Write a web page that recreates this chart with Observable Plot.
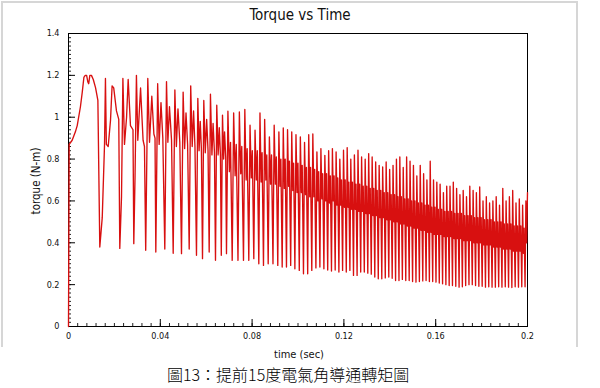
<!DOCTYPE html>
<html>
<head>
<meta charset="utf-8">
<script src="https://cdn.jsdelivr.net/npm/d3@7"></script>
<script src="https://cdn.jsdelivr.net/npm/@observablehq/plot@0.6"></script>
<style>
  html, body { margin: 0; padding: 0; background: #fff; }
  #wrap { position: relative; width: 600px; height: 388px; overflow: hidden; background: #fff;
          font-family: "Liberation Sans Narrow", "DejaVu Sans Condensed", "Liberation Sans", sans-serif; color: #111; }
  #border { position: absolute; left: 1px; top: 1px; width: 577px; height: 346px;
            border-left: 2px solid #d6d6d6; border-top: 2px solid #d6d6d6; border-right: 2px solid #d6d6d6; box-sizing: border-box; }
  #chart { position: absolute; left: 0; top: 0; }
  #title { position: absolute; left: 0; top: 6px; width: 600px; text-align: center; font-size: 15px; }
  #ylab { position: absolute; left: 36px; top: 181px; font-size: 11.5px; white-space: nowrap;
          transform: translate(-50%, -50%) rotate(-90deg); }
  #xlab { position: absolute; left: 0; top: 348px; width: 598px; text-align: center; font-size: 11px; }
  #caption { position: absolute; left: 167px; top: 362px; font-size: 16px; white-space: nowrap; font-weight: 300;
             font-family: "Noto Sans CJK TC", "Noto Sans CJK SC", sans-serif; color: #000; }
</style>
</head>
<body>
<div id="wrap">
  <div id="border"></div>
  <div id="chart"></div>
  <div id="title">Torque vs Time</div>
  <div id="ylab">torque (N-m)</div>
  <div id="xlab">time (sec)</div>
  <div id="caption">圖13：提前15度電氣角導通轉矩圖</div>
</div>
<script>
// Tick labels
const xTicks = [0, 0.04, 0.08, 0.12, 0.16, 0.2];
const yTicks = [0, 0.2, 0.4, 0.6, 0.8, 1, 1.2, 1.4];

// Time samples (milliseconds)
const timeMs = [
  0, 0.3, 1.6, 3.0, 3.8, 5.2, 6.0, 6.7, 7.3, 7.9, 8.4, 8.8, 9.3, 10.0, 10.8, 11.8, 12.8,
  13.64, 14.7, 15.7, 16.1, 16.5, 17.3, 18.3, 19.0, 19.7, 20.9, 21.9,
  22.35, 23.1, 23.7, 24.4, 25.3, 26.0, 27.0, 28.1,
  28.45, 29.0, 29.6, 30.2, 31.4, 32.5, 33.1,
  33.64,
  34.55, 35.3, 36.3, 37.2, 37.7, 38.04,
  38.85, 39.5, 40.3, 41.1, 41.96,
  42.7, 43.3, 44.0, 44.9, 45.62,
  46.35, 47.0, 47.7, 48.5, 49.24,
  49.95, 50.6, 51.2, 51.9, 52.59,
  53.25, 53.9, 54.5, 55.1, 55.77,
  56.35, 56.9, 57.4, 57.9, 58.39,
  58.95, 59.6, 60.2, 60.8, 61.30,
  61.85, 62.5, 63.0, 63.6, 64.05,
  64.6, 65.2, 65.7, 66.2, 66.58,
  67.1, 67.6, 68.0, 68.5, 68.84,
  69.46, 70.10, 70.60, 71.33,
  71.96, 72.60, 73.10, 73.85,
  74.45, 75.05, 75.50, 76.25,
  76.83, 77.40, 77.85, 78.56,
  79.10, 79.65, 80.10, 80.74,
  81.28, 81.83, 82.27, 82.92,
  83.43, 83.94, 84.35, 84.96,
  85.47, 85.98, 86.40, 87.01,
  87.53, 88.05, 88.47, 89.10,
  89.62, 90.15, 90.56, 91.19,
  91.67, 92.15, 92.53, 93.11,
  93.58, 94.05, 94.42, 94.98,
  95.44, 95.90, 96.26, 96.81,
  97.27, 97.72, 98.09, 98.64,
  99.12, 99.60, 99.98, 100.56,
  101.02, 101.48, 101.84, 102.39,
  102.85, 103.30, 103.67, 104.22,
  104.67, 105.12, 105.47, 106.01,
  106.46, 106.90, 107.26, 107.80,
  108.24, 108.67, 109.02, 109.54,
  109.98, 110.41, 110.76, 111.28,
  111.70, 112.11, 112.44, 112.94,
  113.35, 113.77, 114.10, 114.59,
  114.99, 115.40, 115.72, 116.20,
  116.60, 117.01, 117.33, 117.82,
  118.22, 118.62, 118.95, 119.43,
  119.83, 120.24, 120.56, 121.04,
  121.43, 121.83, 122.14, 122.61,
  123.00, 123.40, 123.71, 124.18,
  124.57, 124.97, 125.28, 125.75,
  126.14, 126.54, 126.85, 127.32,
  127.71, 128.10, 128.42, 128.89,
  129.27, 129.65, 129.95, 130.41,
  130.79, 131.17, 131.47, 131.93,
  132.31, 132.70, 133.00, 133.46,
  133.84, 134.22, 134.52, 134.98,
  135.36, 135.75, 136.05, 136.51,
  136.89, 137.27, 137.57, 138.03,
  138.41, 138.80, 139.10, 139.56,
  139.93, 140.30, 140.60, 141.04,
  141.41, 141.78, 142.07, 142.52,
  142.89, 143.26, 143.55, 144.00,
  144.37, 144.74, 145.03, 145.48,
  145.85, 146.22, 146.51, 146.96,
  147.33, 147.70, 148.00, 148.45,
  148.82, 149.19, 149.48, 149.93,
  150.30, 150.67, 150.96, 151.41,
  151.78, 152.15, 152.44, 152.89,
  153.26, 153.63, 153.92, 154.37,
  154.73, 155.09, 155.38, 155.81,
  156.17, 156.53, 156.82, 157.25,
  157.61, 157.97, 158.26, 158.69,
  159.05, 159.41, 159.70, 160.13,
  160.49, 160.85, 161.14, 161.56,
  161.92, 162.28, 162.57, 163.00,
  163.36, 163.72, 164.01, 164.44,
  164.80, 165.16, 165.45, 165.87,
  166.23, 166.59, 166.88, 167.31,
  167.67, 168.03, 168.32, 168.75,
  169.11, 169.47, 169.76, 170.19,
  170.55, 170.91, 171.20, 171.62,
  171.98, 172.34, 172.63, 173.06,
  173.42, 173.78, 174.07, 174.50,
  174.86, 175.22, 175.51, 175.94,
  176.30, 176.66, 176.95, 177.37,
  177.73, 178.09, 178.38, 178.81,
  179.17, 179.53, 179.82, 180.25,
  180.61, 180.97, 181.26, 181.69,
  182.05, 182.41, 182.70, 183.12,
  183.48, 183.84, 184.13, 184.56,
  184.92, 185.28, 185.57, 186.00,
  186.36, 186.72, 187.01, 187.44,
  187.80, 188.16, 188.45, 188.87,
  189.23, 189.59, 189.88, 190.31,
  190.67, 191.03, 191.32, 191.75,
  192.11, 192.47, 192.76, 193.19,
  193.55, 193.91, 194.20, 194.63,
  194.99, 195.35, 195.64, 196.07,
  196.43, 196.79, 197.08, 197.51,
  197.87, 198.23, 198.52, 198.94,
  199.30, 199.60, 200.00
];

// Torque values (N-m) matching timeMs
const torqueNm = [
  0, 0.87, 0.89, 0.93, 0.96, 1.05, 1.12, 1.19, 1.2, 1.2, 1.17, 1.16, 1.2, 1.2, 1.18, 1.14, 1.08,
  0.38, 0.52, 0.87, 1.185, 0.87, 0.86, 0.985, 1.15, 1.14, 1.03, 0.99,
  0.373, 0.62, 1.185, 0.87, 1.0, 1.18, 0.96, 0.94,
  0.396, 0.72, 1.2, 0.89, 1.14, 0.89, 0.86,
  0.364,
  1.185, 0.88, 1.1, 0.92, 0.9, 0.356,
  1.16, 0.87, 1.07, 0.9, 0.37,
  1.17, 0.88, 1.05, 0.89, 0.35,
  1.13, 0.86, 1.04, 0.88, 0.348,
  1.12, 0.85, 1.02, 0.87, 0.37,
  1.15, 0.86, 1.03, 0.86, 0.34,
  1.09, 0.84, 0.98, 0.85, 0.324,
  1.08, 0.83, 0.99, 0.84, 0.356,
  1.11, 0.82, 0.97, 0.83, 0.316,
  1.057, 0.82, 0.95, 0.82, 0.34,
  1.01, 0.8, 0.93, 0.81, 0.348,
  1.029, 0.74, 0.88, 0.316,
  1.02, 0.72, 0.87, 0.316,
  1.025, 0.73, 0.86, 0.316,
  1.037, 0.70, 0.85, 0.316,
  0.962, 0.71, 0.84, 0.324,
  0.938, 0.70, 0.84, 0.30,
  1.02, 0.69, 0.83, 0.292,
  0.99, 0.70, 0.82, 0.30,
  0.906, 0.68, 0.82, 0.30,
  0.962, 0.68, 0.81, 0.292,
  0.93, 0.67, 0.80, 0.284,
  0.949, 0.66, 0.80, 0.284,
  0.94, 0.67, 0.79, 0.292,
  0.93, 0.65, 0.78, 0.276,
  0.916, 0.64, 0.78, 0.268,
  0.906, 0.64, 0.77, 0.252,
  0.88, 0.63, 0.76, 0.252,
  0.916, 0.62, 0.76, 0.268,
  0.92, 0.62, 0.75, 0.28,
  0.834, 0.60, 0.74, 0.284,
  0.85, 0.61, 0.73, 0.276,
  0.818, 0.60, 0.73, 0.27,
  0.84, 0.59, 0.72, 0.265,
  0.85, 0.60, 0.72, 0.27,
  0.834, 0.58, 0.71, 0.26,
  0.80, 0.58, 0.70, 0.268,
  0.842, 0.57, 0.70, 0.26,
  0.855, 0.57, 0.69, 0.268,
  0.80, 0.56, 0.69, 0.244,
  0.82, 0.56, 0.68, 0.244,
  0.842, 0.55, 0.68, 0.26,
  0.81, 0.55, 0.67, 0.26,
  0.80, 0.54, 0.67, 0.255,
  0.826, 0.54, 0.66, 0.25,
  0.81, 0.53, 0.66, 0.236,
  0.786, 0.53, 0.65, 0.228,
  0.77, 0.52, 0.65, 0.228,
  0.762, 0.52, 0.64, 0.232,
  0.786, 0.51, 0.64, 0.236,
  0.75, 0.51, 0.63, 0.23,
  0.77, 0.50, 0.63, 0.22,
  0.80, 0.50, 0.62, 0.22,
  0.81, 0.49, 0.62, 0.225,
  0.76, 0.49, 0.61, 0.22,
  0.81, 0.48, 0.61, 0.22,
  0.79, 0.48, 0.60, 0.215,
  0.77, 0.47, 0.60, 0.212,
  0.72, 0.47, 0.59, 0.215,
  0.77, 0.46, 0.59, 0.218,
  0.73, 0.46, 0.58, 0.22,
  0.70, 0.45, 0.58, 0.215,
  0.79, 0.45, 0.57, 0.215,
  0.70, 0.44, 0.57, 0.212,
  0.69, 0.44, 0.56, 0.208,
  0.68, 0.44, 0.56, 0.204,
  0.64, 0.43, 0.55, 0.20,
  0.67, 0.43, 0.55, 0.196,
  0.67, 0.43, 0.55, 0.196,
  0.69, 0.42, 0.54, 0.192,
  0.66, 0.42, 0.54, 0.188,
  0.63, 0.42, 0.54, 0.19,
  0.65, 0.41, 0.53, 0.196,
  0.62, 0.41, 0.53, 0.20,
  0.67, 0.41, 0.53, 0.20,
  0.65, 0.40, 0.52, 0.196,
  0.64, 0.40, 0.52, 0.192,
  0.667, 0.40, 0.52, 0.192,
  0.60, 0.39, 0.51, 0.188,
  0.62, 0.39, 0.51, 0.19,
  0.59, 0.39, 0.51, 0.188,
  0.60, 0.38, 0.50, 0.188,
  0.62, 0.38, 0.50, 0.19,
  0.58, 0.38, 0.50, 0.188,
  0.66, 0.37, 0.49, 0.19,
  0.60, 0.37, 0.49, 0.188,
  0.62, 0.37, 0.49, 0.186,
  0.65, 0.36, 0.48, 0.19,
  0.59, 0.36, 0.48, 0.188,
  0.61, 0.36, 0.48, 0.19,
  0.58, 0.35, 0.47, 0.19,
  0.60, 0.40, 0.64
];

if (timeMs.length !== torqueNm.length) console.error("length mismatch", timeMs.length, torqueNm.length);
const data = timeMs.map((ms, i) => ({time: ms / 1000, torque: torqueNm[i]}));

const xMinor = d3.range(0, 0.2 + 1e-9, 0.004);
const yMinor = d3.range(0, 1.4 + 1e-9, 0.02);

const chart = Plot.plot({
  width: 600,
  height: 362,
  marginLeft: 68,
  marginRight: 73,
  marginTop: 33,
  marginBottom: 36,
  style: {
    fontFamily: '"Liberation Sans Narrow", "DejaVu Sans Condensed", "Liberation Sans", sans-serif',
    fontSize: "9px",
    color: "#111",
    background: "transparent",
    overflow: "visible"
  },
  x: {domain: [0, 0.2]},
  y: {domain: [0, 1.4]},
  marks: [
    Plot.tickY(yMinor, {y: d => d, insetRight: 456, stroke: "#222"}),
    Plot.tickY(yTicks, {y: d => d, insetRight: 452, stroke: "#000"}),
    Plot.tickX(xMinor, {x: d => d, insetTop: 290, stroke: "#222"}),
    Plot.tickX(xTicks, {x: d => d, insetTop: 286, stroke: "#000"}),
    Plot.axisX({ticks: xTicks, tickSize: 0, tickPadding: 6, tickFormat: d => String(d), label: null}),
    Plot.axisY({ticks: yTicks, tickSize: 0, tickPadding: 9, tickFormat: d => String(d), label: null}),
    Plot.frame({stroke: "#000", strokeWidth: 1}),
    Plot.line(data, {x: "time", y: "torque", stroke: "#d81010", strokeWidth: 1.35})
  ]
});
document.getElementById("chart").appendChild(chart);
</script>
</body>
</html>
